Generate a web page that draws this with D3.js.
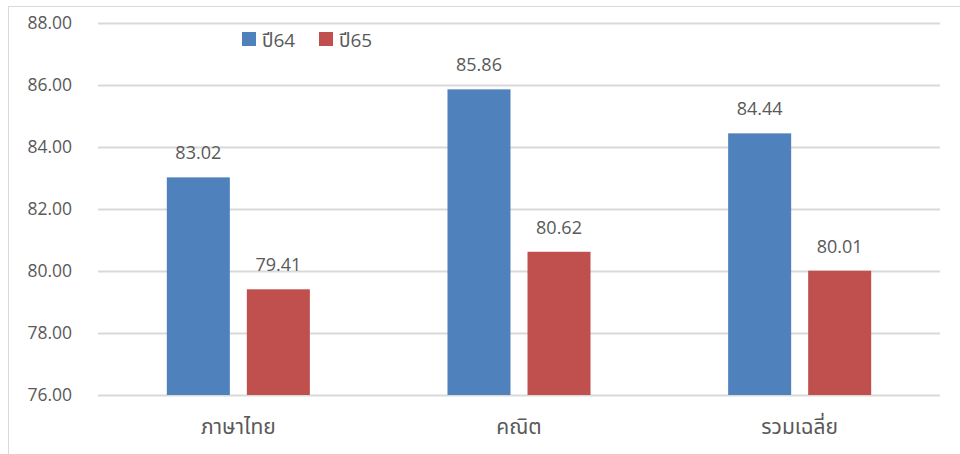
<!DOCTYPE html>
<html><head><meta charset="utf-8">
<script src="https://cdn.jsdelivr.net/npm/d3@7"></script>
<style>
body{margin:0;background:#fff;}
svg text{font-family:"Open Sans","Noto Sans","Noto Sans Thai","DejaVu Sans",sans-serif;fill:#595959;}
</style></head>
<body><svg id="c" width="960" height="454"></svg>
<script>
const categories = ["ภาษาไทย", "คณิต", "รวมเฉลี่ย"];
const seriesNames = ["ปี64", "ปี65"];
const values64 = [83.02, 85.86, 84.44];
const values65 = [79.41, 80.62, 80.01];
const yTicks = [76, 78, 80, 82, 84, 86, 88];
const colors = ["#4F81BD", "#C0504D"];

(function(){
const seriesValues = [values64, values65];
const svg = d3.select("#c");

// chart border
svg.append("rect").attr("x", 8.5).attr("y", 6.5).attr("width", 960).attr("height", 460)
  .attr("fill", "none").attr("stroke", "#d9d9d9").attr("stroke-width", 1);

const pL = 98, pR = 940, pT = 23, pB = 395;
const y = d3.scaleLinear().domain([76, 88]).range([pB, pT]);
const x0 = d3.scaleBand().domain(categories).range([pL, pR]).padding(0);
const x1 = d3.scaleBand().domain(seriesNames).range([0, x0.bandwidth()])
  .paddingInner(0.2125).paddingOuter(0.86);

// gridlines
const yAxis = d3.axisLeft(y).tickValues(yTicks).tickSize(-(pR - pL)).tickFormat(d => d.toFixed(2)).tickPadding(26);
const gy = svg.append("g").attr("transform", `translate(${pL},0)`).call(yAxis);
gy.select(".domain").remove();
gy.selectAll(".tick line").attr("stroke", "#d9d9d9").attr("stroke-width", 2);
gy.selectAll(".tick text").attr("font-size", 17.5).attr("fill", "#595959").attr("font-family", null);

// bars
const groups = svg.append("g").selectAll("g").data(categories).join("g")
  .attr("transform", d => `translate(${x0(d)},0)`);
seriesNames.forEach((s, si) => {
  groups.append("rect")
    .attr("x", x1(s))
    .attr("width", x1.bandwidth())
    .attr("y", (d, i) => y(seriesValues[si][i]))
    .attr("height", (d, i) => y(76) - y(seriesValues[si][i]))
    .attr("fill", colors[si]);
  groups.append("text")
    .attr("x", x1(s) + x1.bandwidth() / 2)
    .attr("y", (d, i) => y(seriesValues[si][i]) - 18)
    .attr("text-anchor", "middle")
    .attr("font-size", 18)
    .text((d, i) => seriesValues[si][i].toFixed(2));
});

// x axis labels
const xAxis = d3.axisBottom(x0).tickSize(0).tickPadding(24);
const gx = svg.append("g").attr("transform", `translate(0,${pB})`).call(xAxis);
gx.select(".domain").remove();
gx.selectAll(".tick text").attr("font-size", 21).attr("fill", "#595959").attr("font-family", null);

// legend
const legendX = [242, 319];
const lg = svg.append("g");
seriesNames.forEach((s, i) => {
  lg.append("rect").attr("x", legendX[i]).attr("y", 32).attr("width", 14).attr("height", 14).attr("fill", colors[i]);
  lg.append("text").attr("x", legendX[i] + 20).attr("y", 47).attr("font-size", 19).text(s);
});
})();
</script></body></html>
